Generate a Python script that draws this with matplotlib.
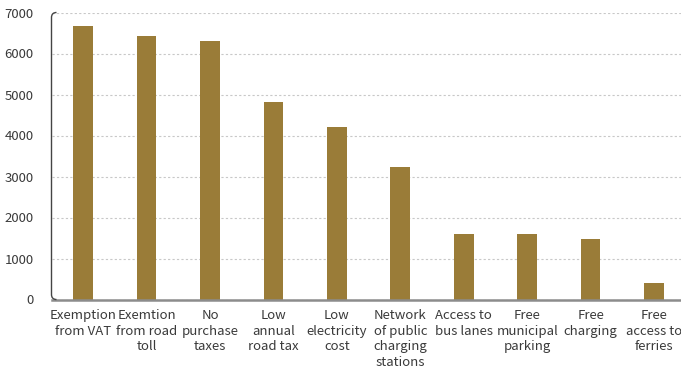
import matplotlib.pyplot as plt
import numpy as np
from matplotlib.path import Path
from matplotlib.patches import PathPatch

plt.rcParams['font.family'] = ['Noto Sans CJK KR', 'DejaVu Sans']

categories = [
    "Exemption\nfrom VAT",
    "Exemtion\nfrom road\ntoll",
    "No\npurchase\ntaxes",
    "Low\nannual\nroad tax",
    "Low\nelectricity\ncost",
    "Network\nof public\ncharging\nstations",
    "Access to\nbus lanes",
    "Free\nmunicipal\nparking",
    "Free\ncharging",
    "Free\naccess to\nferries",
]
values = [6670, 6420, 6300, 4820, 4210, 3220, 1590, 1590, 1470, 400]
yticks = [0, 1000, 2000, 3000, 4000, 5000, 6000, 7000]

W, H = 681, 371
ax_l, ax_r, ax_t, ax_b = 51.5, 685.7, 12.5, 299.5
fig = plt.figure(figsize=(W / 100, H / 100), dpi=100)
ax = fig.add_axes([ax_l / W, 1 - ax_b / H, (ax_r - ax_l) / W, (ax_b - ax_t) / H])

x = np.arange(len(categories))
ax.bar(x, values, width=0.31, color='#9a7c38', zorder=3)

ax.set_xlim(-0.5, len(categories) - 0.5)
ax.set_ylim(0, 7000)
ax.set_yticks(yticks)
ax.set_xticks(x)
ax.set_xticklabels(categories, fontsize=9.5, color='#3a3a3a', linespacing=1.25)
ax.tick_params(axis='y', length=0, pad=13, labelsize=9.5, labelcolor='#3a3a3a')
ax.tick_params(axis='x', length=0, pad=7)

ax.grid(axis='y', linestyle=(0, (2, 2)), color='#c8c8c8', linewidth=0.8, zorder=0)
for s in ['top', 'right', 'left']:
    ax.spines[s].set_visible(False)
ax.spines['bottom'].set_color('#8c8c8c')
ax.spines['bottom'].set_linewidth(1.8)
ax.spines['bottom'].set_zorder(4)

# left axis line with rounded corners
dx = 5 / (ax_r - ax_l)
dy = 5 / (ax_b - ax_t)
verts = [(dx, 1), (0, 1), (0, 1 - dy), (0, dy), (0, 0), (dx, 0)]
codes = [Path.MOVETO, Path.CURVE3, Path.CURVE3, Path.LINETO, Path.CURVE3, Path.CURVE3]
ax.add_patch(PathPatch(Path(verts, codes), transform=ax.transAxes, fill=False,
                       edgecolor='#444444', linewidth=1, clip_on=False, zorder=5))

fig.savefig('out.png', dpi=100)
